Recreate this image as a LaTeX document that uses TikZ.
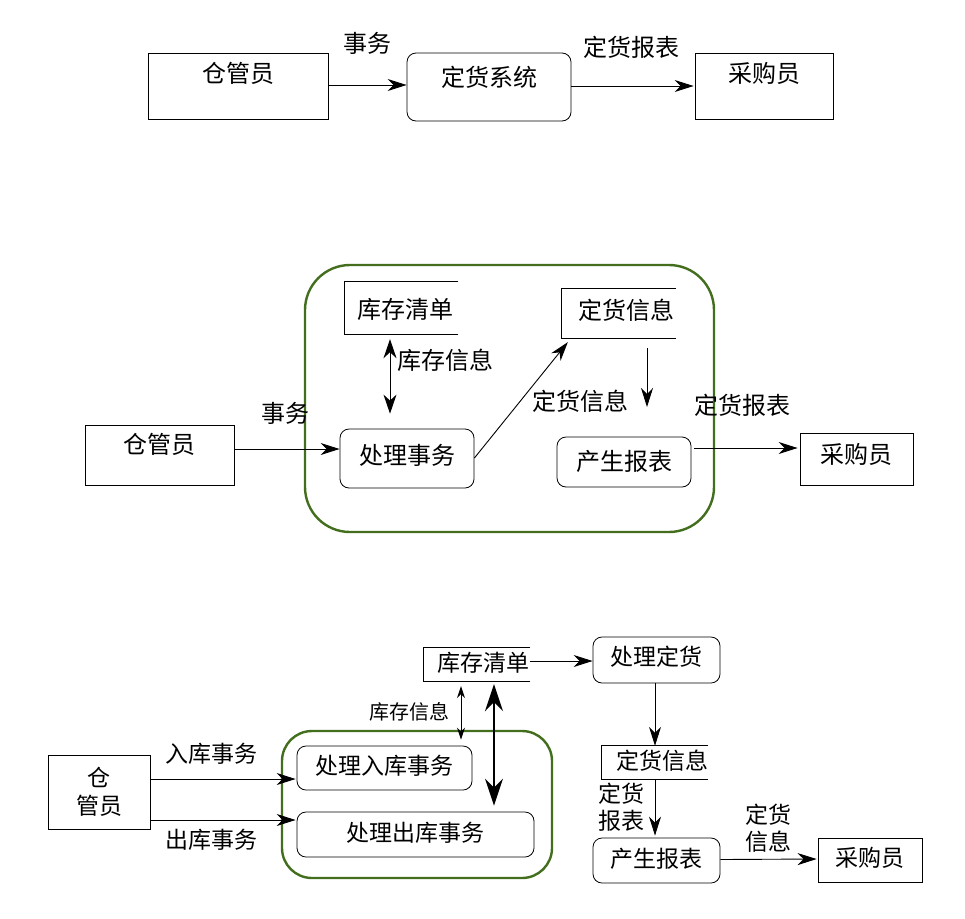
\documentclass[tikz,border=0pt]{standalone}
\usepackage{fontspec}
\newfontfamily\cjk{Noto Sans CJK SC}
\usetikzlibrary{arrows.meta}
\definecolor{frame}{RGB}{67,110,30}
\tikzset{
  x=1pt,y=-1pt,
  every node/.style={font=\cjk\fontsize{24pt}{28pt}\selectfont, inner sep=0pt},
  lowf/.style={font=\cjk\fontsize{23pt}{27pt}\selectfont},
  smallf/.style={font=\cjk\fontsize{20pt}{24pt}\selectfont},
  box/.style={draw, line width=0.8pt},
  rbox/.style={draw, line width=0.8pt, rounded corners=9pt},
  store/.style={draw=none},
  grp/.style={draw=frame, line width=2.4pt},
  arr/.style={-{Stealth[length=19pt,width=12pt,inset=6pt]}, line width=0.9pt},
  darr/.style={{Stealth[length=19pt,width=13pt,inset=6pt]}-{Stealth[length=19pt,width=13pt,inset=6pt]}, line width=0.9pt},
  sarr/.style={{Stealth[length=12pt,width=8pt,inset=4pt]}-{Stealth[length=12pt,width=8pt,inset=4pt]}, line width=0.9pt},
  barr/.style={{Stealth[length=27pt,width=18pt,inset=9pt]}-{Stealth[length=27pt,width=18pt,inset=9pt]}, line width=1.4pt},
}
\newcommand\openbox[1]{\draw[line width=0.8pt] (#1.north east) -- (#1.north west) -- (#1.south west) -- (#1.south east);}
\begin{document}
\begin{tikzpicture}
\useasboundingbox (0,0) rectangle (965,918);
% ---------- top row ----------
\node[box, minimum width=180pt, minimum height=66pt, label={[yshift=13pt]center:仓管员}] (a1) at (238,86) {};
\node[rbox, minimum width=164pt, minimum height=68pt, label={[yshift=10pt]center:定货系统}] (s1) at (489,87) {};
\node[box, minimum width=138pt, minimum height=66pt, label={[yshift=13pt]center:采购员}] (p1) at (764,86) {};
\draw[arr] ([yshift=1pt]a1.east) -- ([yshift=2pt]s1.west);
\draw[arr] ([yshift=1pt]s1.east) -- ([xshift=-1pt]p1.west);
\node (l1) at (367,43) {事务};
\node (l2) at (631,47) {定货报表};
% ---------- middle ----------
\node[grp, rounded corners=45pt, minimum width=409pt, minimum height=267pt] (g2) at (509.5,398.5) {};
\node[store, minimum width=113pt, minimum height=52pt, label={[xshift=3.5pt,yshift=-1pt]center:库存清单}] (kc2) at (401.5,308) {};
\openbox{kc2}
\node[store, minimum width=114pt, minimum height=49pt, label={[xshift=7pt,yshift=3pt]center:定货信息}] (dh2) at (619,313.5) {};
\openbox{dh2}
\node[rbox, minimum width=134pt, minimum height=59pt, label={[yshift=3pt]center:处理事务}] (cl2) at (407,458.5) {};
\node[rbox, minimum width=134pt, minimum height=50pt, label={[yshift=1pt]center:产生报表}] (sc2) at (624,462) {};
\node[box, minimum width=149pt, minimum height=60pt, label={[yshift=11pt]center:仓管员}] (a2) at (159.5,455) {};
\node[box, minimum width=113pt, minimum height=52pt, label={[yshift=5pt]center:采购员}] (p2) at (856.5,459) {};
\draw[arr] ([yshift=6pt]a2.east) -- ([yshift=9.5pt]cl2.west);
\draw[darr] ([xshift=-11.5pt,yshift=-5pt]kc2.south) -- ([xshift=-17pt,yshift=15pt]cl2.north);
\draw[arr] ([yshift=0.5pt]cl2.east) -- ([xshift=6pt,yshift=-4pt]dh2.south west);
\coordinate (e2) at (647,407);
\draw[arr] ([xshift=28pt,yshift=-10pt]dh2.south) -- (e2);
\draw[arr] ([xshift=3pt,yshift=14pt]sc2.east) -- ([xshift=-2pt,yshift=11pt]p2.west);
\node (l3) at (285,413) {事务};
\node (l4) at (445,360) {库存信息};
\node (l5) at (580,401) {定货信息};
\node (l6) at (742,405) {定货报表};
% ---------- bottom ----------
\node[grp, rounded corners=30pt, minimum width=270pt, minimum height=147pt] (g3) at (417,804.5) {};
\node[store, minimum width=106pt, minimum height=33pt, label={[lowf,xshift=6pt,yshift=2pt]center:库存清单}] (kc3) at (477,664.5) {};
\openbox{kc3}
\node[rbox, minimum width=127pt, minimum height=46pt, label={[lowf,yshift=3pt]center:处理定货}] (cd3) at (656.5,660) {};
\node[store, minimum width=106pt, minimum height=33pt, label={[lowf,xshift=7pt,yshift=2pt]center:定货信息}] (dh3) at (655,762.5) {};
\openbox{dh3}
\node[rbox, minimum width=127pt, minimum height=45pt, label={[lowf,yshift=2pt]center:产生报表}] (sc3) at (656.5,860.5) {};
\node[box, minimum width=104pt, minimum height=44pt, label={[lowf,yshift=2pt]center:采购员}] (p3) at (870,860) {};
\node[rbox, minimum width=175pt, minimum height=44pt, label={[lowf,yshift=2pt]center:处理入库事务}] (rk3) at (384.5,768) {};
\node[rbox, minimum width=237pt, minimum height=45pt, label={[lowf,yshift=2pt]center:处理出库事务}] (ck3) at (415.5,834.5) {};
\node[box, minimum width=102pt, minimum height=74pt, align=center, font=\cjk\fontsize{23pt}{28pt}\selectfont] (a3) at (99,792) {仓\\管员};
\draw[arr] ([yshift=3.5pt]kc3.east) -- ([yshift=-1pt]cd3.west);
\draw[arr] ([xshift=-1.5pt]cd3.south) -- (dh3.north);
\draw[arr] (dh3.south) -- ([xshift=-1.5pt,yshift=2pt]sc3.north);
\draw[arr] ([yshift=1pt]sc3.east) -- ([xshift=-1pt,yshift=1pt]p3.west);
\draw[arr] ([yshift=13pt]a3.east) -- ([xshift=-1pt,yshift=-11pt]rk3.west);
\draw[arr] ([yshift=-28pt]a3.east) -- ([xshift=-1pt,yshift=14.5pt]ck3.west);
\draw[sarr] ([xshift=-16pt,yshift=-5pt]kc3.south) -- ([xshift=76.5pt,yshift=6pt]rk3.north);
\draw[barr] ([xshift=17pt,yshift=-3pt]kc3.south) -- ([xshift=78.5pt,yshift=6pt]ck3.north);
\node[smallf] (l7) at (409,712) {库存信息};
\node[lowf] (l8) at (211,754) {入库事务};
\node[lowf] (l9) at (211,840) {出库事务};
\node[align=center, font=\cjk\fontsize{23pt}{27pt}\selectfont] (l10) at (621,807) {定货\\报表};
\node[align=center, font=\cjk\fontsize{23pt}{27pt}\selectfont] (l11) at (768,828) {定货\\信息};
\end{tikzpicture}
\end{document}
